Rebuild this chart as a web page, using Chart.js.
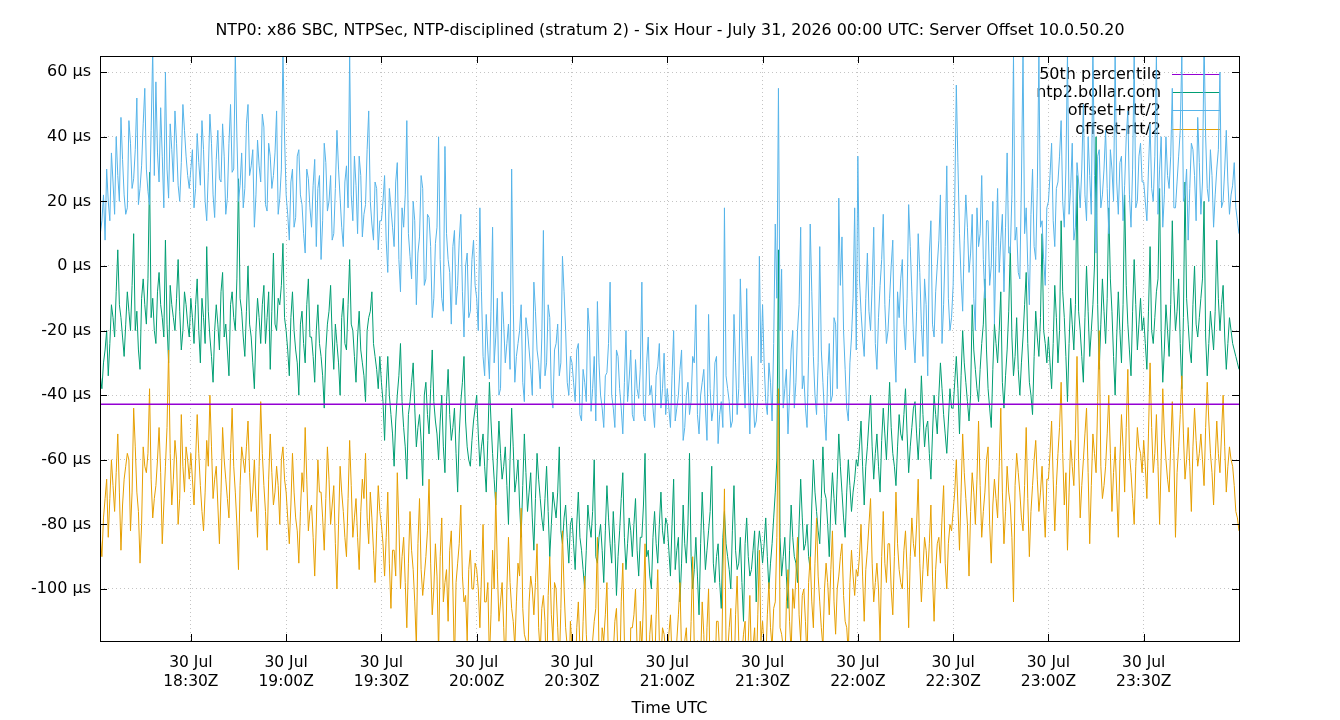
<!DOCTYPE html>
<html>
<head>
<meta charset="utf-8">
<title>Server Offset 10.0.50.20</title>
<script src="https://cdn.jsdelivr.net/npm/chart.js@4.4.1/dist/chart.umd.min.js"></script>
<style>
    html, body { margin: 0; padding: 0; background: #fff; }
    #wrap { width: 1340px; height: 720px; }
</style>
</head>
<body>
<div id="wrap"><canvas id="offsetChart" width="1340" height="720"></canvas></div>
<script>
// minutes after 30 Jul 18:00Z; samples on the minute and on the half minute
const firstSample = 1;
const sampleStep = 1;
const xMin = 1.4;
const xMax = 360;

const xTickMinutes = [30, 60, 90, 120, 150, 180, 210, 240, 270, 300, 330];
const xTickLabels = ['18:30Z', '19:00Z', '19:30Z', '20:00Z', '20:30Z', '21:00Z', '21:30Z', '22:00Z', '22:30Z', '23:00Z', '23:30Z'];
const xTickDate = '30 Jul';
const yTickValues = [-100, -80, -60, -40, -20, 0, 20, 40, 60];

const percentile50 = -42.8;

// offset+rtt/2 (µs)
const offsetPlus = [
    12, 14, 8, 20, 35, 16, 28, 46, 22, 18, 38, 27, 52, 24, 44, 30, 19, 67, 57, 26, 34, 60, 21, 36, 48, 25, 32, 42, 28,
    30, 18, 41, 25, 36, 14, 47, 22, 33, 27, 44, 16, 38, 29, 66, 20, 35, 24, 50, 31, 12, 39, 26, 43, 17, 34, 28, 48, 21, 66,
    22, 8, 30, 15, 36, 19, 4, 27, 12, 33, 24, 2, 38, 17, 28, 10, 42, 21, 6, 31, 66, 14, 25, 34, 9, 19, 48, 13, 26, 5,
    14, 28, -2, 18, 6, 32, -8, 12, 45, 3, 20, -12, 9, 24, -4, 15, -16, 7, 40, -10, 37, 2, -18, 11, -6, 16, -22, 4, -14, 8,
    -10, 18, -28, -15, -35, 12, -22, -40, -8, -30, -18, 30, -36, -24, -12, -42, -20, -32, -5, -26, -38, 11, -30, -16, -44, -24, -34, 3, -20, -40,
    -30, -42, -24, -48, -36, -13, -45, -28, -11, -40, -50, -33, -5, -44, -26, -38, -52, -20, -35, -46, -29, -41, -5, -48, -22, -37, -50, -31, -44, -27,
    -38, -50, -20, -44, -32, -54, -40, -46, -28, -12, -52, -36, -44, -15, -48, -30, -55, -42, 18, -38, -50, -15, -46, -4, -34, -7, -52, -40, -48, 3,
    -12, -42, -30, -48, 13, 55, -1, -38, -52, -26, -44, -20, 12, -34, -50, 13, -28, -46, 6, -36, -54, -24, -40, -18, 21, 9, -32, -48, -22, 18,
    34, -14, -28, 4, -20, 12, -32, -6, 16, -24, -10, 8, -36, -16, 2, -26, 19, -8, -30, 10, -18, -4, -34, 14, -22, 0, 22, -12, 31, -20,
    -6, 56, 10, -14, 22, -2, 16, -20, 6, 28, -10, 14, 0, -18, 24, 8, -8, 35, 4, 65, 12, -4, 66, 18, -12, 30, 2, 65, 14, -6,
    20, 38, 6, 26, 45, 12, 66, 24, 8, 32, 18, 50, 14, 28, 68, 4, 36, 22, 42, 10, 30, 66, 16, 34, 25, 48, 12, 66, 20, 38,
    26, 14, 44, 20, 66, 30, 12, 40, 24, 55, 18, 34, 66, 22, 8, 38, 28, 46, 16, 70, 24, 36, 12, 30, 60, 20, 42, 16, 25, 18, 10
];
const offsetPlusHalf = [
    10, 22, 30, 14, 26, 40, 20, 33, 16, 45, 24, 36, 19, 31, 55, 23, 42, 28, 35, 49, 18, 30, 44, 26, 38, 20, 50, 34, 24,
    36, 24, 32, 45, 20, 29, 38, 15, 42, 26, 34, 21, 50, 30, 40, 25, 18, 44, 28, 36, 22, 31, 47, 19, 38, 24, 35, 16, 30, 40,
    16, 26, 12, 34, 22, 10, 30, 18, 25, 6, 28, 14, 32, 20, 8, 24, 30, 12, 26, 18, 22, 34, 10, 28, 16, 36, 20, 8, 24, 14,
    20, 8, 24, 12, 26, 2, 18, 22, 10, -4, 14, 4, 28, -6, 16, 6, -10, 12, 2, -14, 10, -2, 6, -12, 8, -8, 0, -16, 2, -6,
    -20, -8, -34, -26, -14, -30, -10, -38, -18, -24, -32, -12, -28, -20, -36, -16, -26, -40, -14, -30, -22, -34, -12, -40, -26, -18, -30, -8, -36, -28,
    -36, -26, -46, -32, -42, -20, -38, -48, -30, -44, -34, -24, -40, -50, -28, -44, -36, -42, -26, -48, -38, -32, -46, -30, -40, -44, -34, -24, -38, -46,
    -44, -34, -48, -40, -26, -50, -36, -42, -30, -46, -40, -32, -54, -38, -44, -28, -46, -50, -34, -42, -48, -30, -38, -22, -44, -36, -28, -50, -40, -30,
    -30, -46, -36, -24, -10, -20, -44, -32, -40, -20, -36, -12, -38, -44, -28, -8, -40, -30, -26, -46, -34, -42, -16, -38, -6, -20, -44, -30, -10, -26,
    -4, -22, -10, -14, -6, -24, -16, 2, -12, -20, 0, -26, -8, -4, -18, -10, 6, -22, -14, -2, -28, -12, 4, -18, -8, 8, -24, 6, -10, -16,
    20, 32, -4, 8, 12, 4, -10, 18, 10, 2, 14, -6, 20, 6, -2, 16, 12, 4, 22, 8, -2, 26, 10, 0, 16, 6, 24, 12, 2, 18,
    28, 14, 24, 34, 20, 30, 16, 38, 12, 26, 30, 22, 40, 16, 28, 34, 18, 30, 24, 36, 20, 26, 32, 14, 40, 22, 30, 18, 34, 26,
    20, 30, 24, 34, 16, 40, 22, 28, 34, 18, 26, 42, 20, 30, 24, 36, 14, 32, 26, 40, 20, 28, 22, 36, 18, 30, 26, 22, 32, 14, 12
];

// offset (µs)
const offset = [
    -30, -38, -26, -34, -12, -22, 5, -16, -28, -8, -20, 10, -14, -32, -4, -18, 29, -10, -24, -2, -16, 8, -30, -12, -20, 2, -26, -8, -18,
    -10, -24, -4, -30, -16, 6, -22, -36, -12, -26, -2, -18, -34, -8, -20, 27, -14, -28, 0, -22, -38, -10, -24, -6, -16, -32, 4, -20, -12, 7,
    -20, -34, -8, -26, -40, -14, -30, -4, -22, -36, -12, -28, -44, -18, -6, -32, -24, -40, -10, -26, 2, -20, -36, -14, -30, -42, -16, -8, -28, -38,
    -36, -54, -28, -46, -62, -40, -24, -50, -66, -42, -30, -56, -46, -68, -36, -52, -26, -48, -60, -40, -64, -32, -54, -44, -70, -42, -28, -56, -62, -48,
    -40, -62, -52, -70, -36, -58, -74, -48, -66, -56, -80, -44, -70, -60, -84, -52, -76, -64, -88, -58, -72, -82, -62, -90, -70, -78, -56, -86, -74, -92,
    -78, -94, -70, -88, -100, -74, -84, -60, -92, -80, -98, -68, -86, -76, -102, -82, -64, -94, -78, -90, -72, -96, -84, -58, -88, -100, -76, -92, -70, -86,
    -80, -96, -66, -88, -104, -74, -92, -58, -100, -84, -108, -70, -94, -82, -62, -98, -86, -106, -76, -90, -100, -68, -94, -84, -110, -78, -96, -88, -104, -82,
    -92, -78, -100, -86, -70, 5, -96, -84, -106, -74, -90, -98, -66, -88, -80, -94, -60, -76, -86, -56, -72, -90, -64, -80, -52, -70, -84, -60, -76, -66,
    -62, -48, -74, -56, -40, -66, -52, -70, -44, -60, -36, -58, -68, -46, -54, -38, -64, -50, -42, -60, -34, -56, -48, -66, -40, -52, -30, -46, -58, -38,
    -44, -28, -52, -20, -36, -48, -12, -32, -42, -24, -4, -38, -50, -18, -30, -8, -44, -26, 6, -34, -16, -40, -22, -2, -36, -46, -14, -28, 10, -24,
    -22, -38, -6, -30, 14, -16, -42, -10, -26, 28, -20, -36, 0, -28, -12, 40, -32, -4, -24, 18, -14, -40, -8, -30, 22, -18, -34, 2, -26, -10,
    -16, -32, 6, -24, -8, 24, -36, -12, -28, 14, -20, -4, -38, 26, -18, -30, 0, -22, -10, 20, -34, -14, -26, 8, -20, -6, -32, -16, -24, -28, -32
];
const offsetHalf = [
    -34, -30, -20, -24, -16, -8, -12, -22, -18, -14, -6, -20, -26, -10, -12, -4, -16, -20, -8, -12, -22, -18, -6, -16, -10, -14, -20, -12, -22,
    -16, -12, -20, -10, -24, -14, -28, -20, -18, -8, -22, -26, -12, -16, -4, -10, -22, -14, -18, -30, -20, -16, -12, -24, -8, -14, -18, -10, -6, -16,
    -26, -16, -20, -30, -18, -24, -12, -22, -28, -20, -24, -34, -26, -14, -22, -18, -30, -16, -24, -12, -18, -28, -22, -26, -34, -20, -14, -24, -32, -28,
    -42, -38, -40, -52, -48, -34, -42, -56, -46, -36, -44, -50, -54, -40, -46, -38, -42, -52, -48, -56, -42, -46, -50, -58, -52, -36, -48, -60, -54, -44,
    -52, -56, -62, -54, -48, -66, -60, -58, -62, -68, -60, -56, -66, -74, -68, -64, -70, -78, -72, -66, -78, -72, -76, -80, -74, -70, -82, -78, -84, -80,
    -86, -80, -84, -94, -88, -80, -76, -90, -84, -88, -82, -78, -92, -86, -90, -72, -84, -86, -82, -80, -88, -84, -74, -90, -96, -84, -86, -80, -82, -78,
    -88, -80, -94, -84, -92, -86, -80, -90, -94, -96, -86, -82, -88, -76, -92, -90, -98, -84, -86, -94, -82, -88, -92, -98, -86, -90, -94, -82, -88, -86,
    -86, -90, -92, -78, -60, -84, -90, -96, -88, -84, -92, -80, -78, -86, -90, -74, -70, -82, -72, -70, -80, -74, -72, -66, -62, -78, -70, -68, -70, -60,
    -56, -62, -62, -48, -56, -58, -62, -54, -52, -48, -50, -62, -56, -52, -46, -52, -56, -44, -52, -50, -46, -50, -58, -52, -46, -40, -38, -52, -48, -44,
    -36, -38, -34, -30, -42, -40, -26, -38, -32, -18, -26, -44, -32, -24, -20, -36, -34, -14, -22, -28, -32, -30, -12, -24, -40, -28, -22, -16, -20, -30,
    -30, -24, -16, -20, -8, -28, -24, -18, -12, -14, -28, -16, -14, -20, 0, -12, -18, -14, -10, -4, -28, -22, -20, -12, -6, -26, -14, -12, -18, -20,
    -24, -14, -20, -16, -4, -20, -26, -20, -12, -8, -14, -24, -16, -10, -26, -12, -18, -16, -4, -22, -24, -20, -14, -10, -12, -22, -24, -20, -26, -30, -30
];

// offset-rtt/2 (µs)
const offsetMinus = [
    -80, -90, -72, -84, -60, -76, -52, -88, -66, -58, -82, -44, -70, -92, -56, -64, -38, -78, -68, -50, -86, -62, -26, -74, -54, -80, -46, -70, -60,
    -58, -74, -46, -68, -82, -54, -40, -72, -62, -86, -50, -66, -78, -44, -70, -94, -56, -64, -48, -76, -60, -84, -42, -68, -88, -52, -74, -62, -80, -56,
    -70, -86, -58, -78, -92, -64, -50, -82, -74, -96, -60, -70, -88, -56, -80, -68, -100, -62, -76, -90, -54, -84, -72, -94, -66, -58, -86, -78, -98, -68,
    -80, -96, -70, -106, -88, -64, -100, -84, -112, -76, -94, -118, -72, -102, -90, -66, -108, -86, -120, -78, -98, -110, -82, -124, -92, -74, -104, -116, -88, -100,
    -94, -112, -80, -104, -122, -88, -70, -110, -98, -126, -84, -106, -118, -92, -75, -114, -128, -96, -108, -86, -120, -102, -132, -90, -116, -100, -124, -82, -112, -130,
    -118, -132, -104, -126, -96, -122, -136, -110, -84, -128, -116, -98, -134, -120, -106, -130, -92, -124, -138, -112, -100, -128, -118, -86, -132, -108, -126, -94, -122, -114,
    -124, -108, -134, -116, -98, -130, -112, -126, -90, -136, -118, -104, -132, -100, -122, -128, -110, -134, -69, -120, -106, -130, -96, -124, -114, -132, -102, -118, -128, -88,
    -110, -124, -98, -118, -104, -38, -114, -126, -94, -120, -106, -84, -116, -100, -122, -90, -112, -78, -104, -118, -92, -108, -82, -114, -96, -86, -110, -120, -88, -102,
    -96, -80, -110, -88, -72, -104, -92, -116, -76, -98, -86, -108, -70, -94, -100, -82, -112, -78, -90, -66, -104, -84, -96, -74, -110, -86, -92, -68, -100, -80,
    -76, -60, -88, -52, -72, -96, -64, -80, -48, -84, -70, -56, -92, -66, -78, -44, -86, -62, -74, -104, -58, -70, -82, -50, -90, -68, -54, -76, -62, -84,
    -66, -48, -82, -58, -36, -74, -88, -54, -68, -28, -78, -60, -44, -86, -52, -64, -20, -72, -62, -40, -76, -56, -84, -46, -70, -32, -64, -80, -50, -58,
    -54, -72, -30, -64, -46, -80, -38, -60, -70, -42, -84, -56, -34, -66, -50, -76, -44, -62, -52, -68, -36, -58, -74, -48, -64, -40, -70, -56, -62, -76, -82
];
const offsetMinusHalf = [
    -84, -78, -66, -72, -68, -64, -70, -74, -62, -60, -70, -56, -76, -80, -62, -58, -66, -72, -60, -64, -74, -50, -58, -66, -60, -72, -62, -56, -66,
    -66, -60, -58, -76, -70, -62, -56, -66, -74, -70, -60, -72, -58, -62, -80, -68, -60, -56, -64, -70, -72, -62, -58, -76, -66, -64, -70, -68, -60, -66,
    -78, -74, -70, -82, -76, -70, -66, -76, -84, -80, -70, -78, -72, -66, -74, -86, -80, -70, -84, -72, -68, -78, -84, -76, -72, -78, -70, -88, -82, -76,
    -86, -84, -92, -88, -96, -80, -90, -98, -92, -88, -104, -86, -94, -96, -82, -92, -100, -96, -90, -104, -94, -88, -100, -98, -86, -96, -102, -94, -100, -92,
    -100, -96, -104, -98, -108, -100, -94, -104, -112, -100, -98, -110, -104, -96, -106, -116, -104, -100, -98, -112, -106, -110, -102, -108, -98, -112, -106, -100, -118, -110,
    -124, -112, -118, -110, -114, -124, -116, -106, -120, -112, -108, -124, -118, -110, -122, -104, -116, -126, -112, -108, -118, -110, -104, -120, -114, -120, -108, -116, -112, -120,
    -114, -122, -118, -108, -120, -116, -124, -110, -118, -116, -122, -114, -112, -126, -116, -110, -120, -96, -118, -112, -124, -108, -116, -120, -110, -116, -122, -112, -108, -116,
    -118, -108, -112, -106, -84, -112, -118, -104, -110, -100, -96, -108, -102, -110, -98, -104, -92, -96, -112, -100, -98, -94, -104, -100, -90, -102, -112, -98, -96, -94,
    -90, -96, -94, -80, -92, -98, -100, -90, -92, -86, -100, -90, -86, -98, -88, -94, -90, -86, -80, -92, -94, -88, -86, -96, -94, -84, -78, -92, -86, -82,
    -70, -74, -70, -64, -80, -76, -70, -66, -68, -76, -60, -80, -74, -72, -62, -70, -76, -70, -84, -68, -64, -78, -68, -72, -76, -60, -66, -70, -74, -66,
    -58, -66, -68, -50, -58, -64, -70, -62, -52, -60, -68, -52, -64, -68, -58, -42, -62, -68, -52, -58, -64, -70, -60, -56, -50, -58, -72, -62, -56, -64,
    -62, -52, -50, -58, -62, -60, -52, -66, -56, -58, -64, -46, -52, -60, -62, -56, -54, -58, -60, -50, -48, -64, -60, -58, -52, -56, -62, -60, -68, -78, -80
];

const sampleMinutes = offset.map((_, i) => firstSample + i * sampleStep);
const toPoints = (whole, half) => whole.flatMap((v, i) => [
    { x: sampleMinutes[i], y: v },
    { x: sampleMinutes[i] + sampleStep / 2, y: half[i] }
]);

const FONT = "'DejaVu Sans', 'Liberation Sans', sans-serif";
Chart.defaults.font.family = FONT;
Chart.defaults.font.size = 16;
Chart.defaults.color = '#000';

// gnuplot style frame, inward ticks and key
const gnuplotLook = {
    id: 'gnuplotLook',
    beforeDatasetsDraw(chart) {
        const { ctx, chartArea } = chart;
        const textRight = chartArea.right - 78;
        const lineStart = chartArea.right - 67;
        const lineEnd = chartArea.right - 19;
        const rows = [18.5, 36.5, 55, 73.5].map(d => chartArea.top + d);
        const keyed = [3, 0, 1, 2];
        ctx.save();
        ctx.font = '16px ' + FONT;
        ctx.textAlign = 'right';
        ctx.textBaseline = 'middle';
        keyed.forEach((di, r) => {
            const ds = chart.data.datasets[di];
            ctx.fillStyle = '#000';
            ctx.fillText(ds.label, textRight, rows[r]);
            ctx.strokeStyle = ds.borderColor;
            ctx.lineWidth = 1;
            ctx.beginPath();
            ctx.moveTo(lineStart, Math.round(rows[r]) - 0.5);
            ctx.lineTo(lineEnd, Math.round(rows[r]) - 0.5);
            ctx.stroke();
        });
        ctx.restore();
    },
    afterDraw(chart) {
        const { ctx, chartArea, scales } = chart;
        const { left, right, top, bottom } = chartArea;
        const tick = 7;
        ctx.save();
        ctx.strokeStyle = '#000';
        ctx.lineWidth = 1;
        ctx.beginPath();
        xTickMinutes.forEach(v => {
            const x = Math.round(scales.x.getPixelForValue(v)) + 0.5;
            ctx.moveTo(x, bottom); ctx.lineTo(x, bottom - tick);
            ctx.moveTo(x, top); ctx.lineTo(x, top + tick);
        });
        yTickValues.forEach(v => {
            const y = Math.round(scales.y.getPixelForValue(v)) + 0.5;
            ctx.moveTo(left, y); ctx.lineTo(left + tick, y);
            ctx.moveTo(right, y); ctx.lineTo(right - tick, y);
        });
        ctx.stroke();
        ctx.strokeRect(Math.round(left) + 0.5, Math.round(top) + 0.5, Math.round(right - left), Math.round(bottom - top));
        ctx.restore();
    }
};

const gridStyle = { color: '#c4c4c4', lineWidth: 1, drawTicks: false };
const dotted = { display: false, dash: [1, 3] };

new Chart(document.getElementById('offsetChart').getContext('2d'), {
    type: 'line',
    data: {
        datasets: [
            {
                label: 'ntp2.bollar.com',
                data: toPoints(offset, offsetHalf),
                borderColor: '#009e73',
                borderWidth: 1,
                pointRadius: 0,
                tension: 0,
                order: 3
            },
            {
                label: 'offset+rtt/2',
                data: toPoints(offsetPlus, offsetPlusHalf),
                borderColor: '#56b4e9',
                borderWidth: 1,
                pointRadius: 0,
                tension: 0,
                order: 2
            },
            {
                label: 'offset-rtt/2',
                data: toPoints(offsetMinus, offsetMinusHalf),
                borderColor: '#e69f00',
                borderWidth: 1,
                pointRadius: 0,
                tension: 0,
                order: 1
            },
            {
                label: '50th percentile',
                data: [{ x: xMin, y: percentile50 }, { x: xMax, y: percentile50 }],
                borderColor: '#9400d3',
                borderWidth: 1.5,
                pointRadius: 0,
                tension: 0,
                order: 0
            }
        ]
    },
    options: {
        responsive: false,
        animation: false,
        events: [],
        layout: { padding: 0 },
        plugins: {
            legend: { display: false },
            tooltip: { enabled: false },
            title: {
                display: true,
                text: 'NTP0: x86 SBC, NTPSec, NTP-disciplined (stratum 2) - Six Hour - July 31, 2026 00:00 UTC: Server Offset 10.0.50.20',
                font: { size: 15.85, weight: 'normal' },
                color: '#000',
                padding: { top: 21, bottom: 16 }
            }
        },
        scales: {
            x: {
                type: 'linear',
                min: xMin,
                max: xMax,
                grid: gridStyle,
                border: dotted,
                afterBuildTicks: scale => { scale.ticks = xTickMinutes.map(v => ({ value: v })); },
                afterFit: scale => { scale.height = 79; },
                ticks: {
                    padding: 13,
                    maxRotation: 0,
                    autoSkip: false,
                    font: { size: 15.5 },
                    callback: (value, index) => [xTickDate, xTickLabels[index]]
                },
                title: {
                    display: true,
                    text: 'Time UTC',
                    font: { size: 16 },
                    padding: { top: 9, bottom: 2 }
                }
            },
            y: {
                min: -116.1,
                max: 65,
                grid: gridStyle,
                border: dotted,
                afterBuildTicks: scale => { scale.ticks = yTickValues.map(v => ({ value: v })); },
                afterFit: scale => { scale.width = 100; },
                ticks: {
                    padding: 9,
                    font: { size: 16 },
                    callback: value => value + ' µs'
                }
            },
            yRight: {
                position: 'right',
                min: -116.1,
                max: 65,
                grid: { display: false, drawTicks: false },
                border: { display: false },
                ticks: { display: false },
                afterFit: scale => { scale.width = 101; }
            }
        }
    },
    plugins: [gnuplotLook]
});
</script>
</body>
</html>
